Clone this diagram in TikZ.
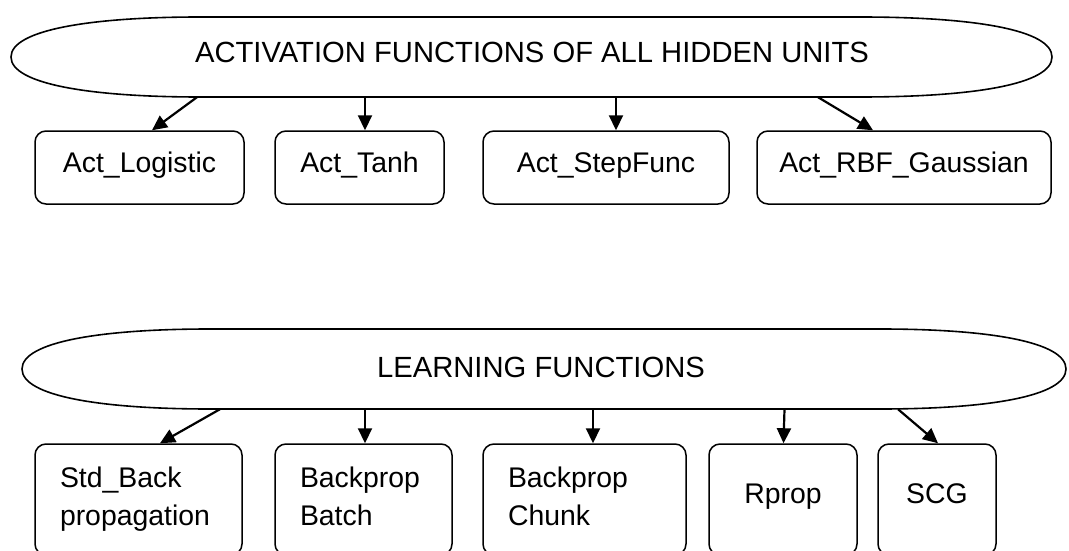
\documentclass[tikz,border=0pt]{standalone}
\usepackage{fontspec}
\setmainfont{Liberation Sans}
\usetikzlibrary{arrows.meta,calc}

\tikzset{
  hub/.style={draw=none, inner sep=0pt},
  hubline/.style={draw=black, line width=1.6pt},
  hubtext/.style={anchor=base, inner sep=0pt, font=\fontsize{29.2}{35}\selectfont},
  fbox/.style={draw=black, line width=1.5pt, rounded corners=11pt,
    font=\fontsize{28.4}{38}\selectfont, inner sep=0pt},
  toprow/.style={fbox, minimum height=73pt, text height=20pt, text depth=11pt},
  lowrow/.style={fbox, minimum height=111pt, inner xsep=25pt, align=left,
    text height=20pt, text depth=44pt},
  lowone/.style={fbox, minimum height=111pt, text height=20pt, text depth=12pt},
  arr/.style={line width=2.2pt, -{Triangle[length=15pt,width=14pt]}},
}

\begin{document}
\begin{tikzpicture}[x=1pt, y=-1pt]
\path[use as bounding box, clip] (0,0) rectangle (1069,551);
\fill[white] (0,0) rectangle (1069,551);

% ---- activation functions ----
\node[hub, minimum width=1041pt, minimum height=80pt] (act) at (531.5,57) {};
\draw[hubline] (11,57) .. controls (11,30) and (90,17) .. (200,17)
  -- (860,17) .. controls (975,17) and (1052,30) .. (1052,57)
  .. controls (1052,84) and (975,97) .. (860,97)
  -- (200,97) .. controls (90,97) and (11,84) .. (11,57) -- cycle;
\node[hubtext] (acttitle) at (532,63) {ACTIVATION FUNCTIONS OF ALL HIDDEN UNITS};

\node[toprow, minimum width=209pt] (log)  at (139.5,167.5) {Act\_Logistic};
\node[toprow, minimum width=169pt] (tanh) at (359.5,167.5) {Act\_Tanh};
\node[toprow, minimum width=246pt] (step) at (606,167.5)   {Act\_StepFunc};
\node[toprow, minimum width=294pt] (rbf)  at (904,167.5)   {Act\_RBF\_Gaussian};

\draw[arr] ([xshift=-334.5pt]act.south) -- ([xshift=12.5pt]log.north);
\draw[arr] ([xshift=5.5pt]act.south -| tanh.north) -- ([xshift=5.5pt]tanh.north);
\draw[arr] ([xshift=10pt]act.south -| step.north) -- ([xshift=10pt]step.north);
\draw[arr] ([xshift=286.5pt]act.south) -- ([xshift=-31pt]rbf.north);

% ---- learning functions ----
\node[hub, minimum width=1044pt, minimum height=80pt] (learn) at (544,369) {};
\draw[hubline] (22,369) .. controls (22,342) and (100,329) .. (210,329)
  -- (880,329) .. controls (990,329) and (1066,342) .. (1066,369)
  .. controls (1066,396) and (990,409) .. (880,409)
  -- (210,409) .. controls (100,409) and (22,396) .. (22,369) -- cycle;
\node[hubtext] (learntitle) at (541,377) {LEARNING FUNCTIONS};

\node[lowrow, text width=157pt] (std)   at (138.5,499.5) {Std\_Back\\propagation};
\node[lowrow, text width=127pt] (batch) at (363.5,499.5) {Backprop\\Batch};
\node[lowrow, text width=153pt] (chunk) at (584.5,499.5) {Backprop\\Chunk};
\node[lowone, minimum width=148pt] (rprop) at (783,499.5) {Rprop};
\node[lowone, minimum width=118pt] (scg)   at (937,499.5) {SCG};

\draw[arr] ([xshift=-324pt]learn.south) -- ([xshift=21.5pt]std.north);
\draw[arr] ([xshift=1.5pt]learn.south -| batch.north) -- ([xshift=1.5pt]batch.north);
\draw[arr] ([xshift=8.5pt]learn.south -| chunk.north) -- ([xshift=8.5pt]chunk.north);
\draw[arr] ([xshift=1.5pt]learn.south -| rprop.north) -- ([xshift=0.5pt]rprop.north);
\draw[arr] ([xshift=354pt]learn.south) -- ([xshift=1pt]scg.north);
\end{tikzpicture}
\end{document}
